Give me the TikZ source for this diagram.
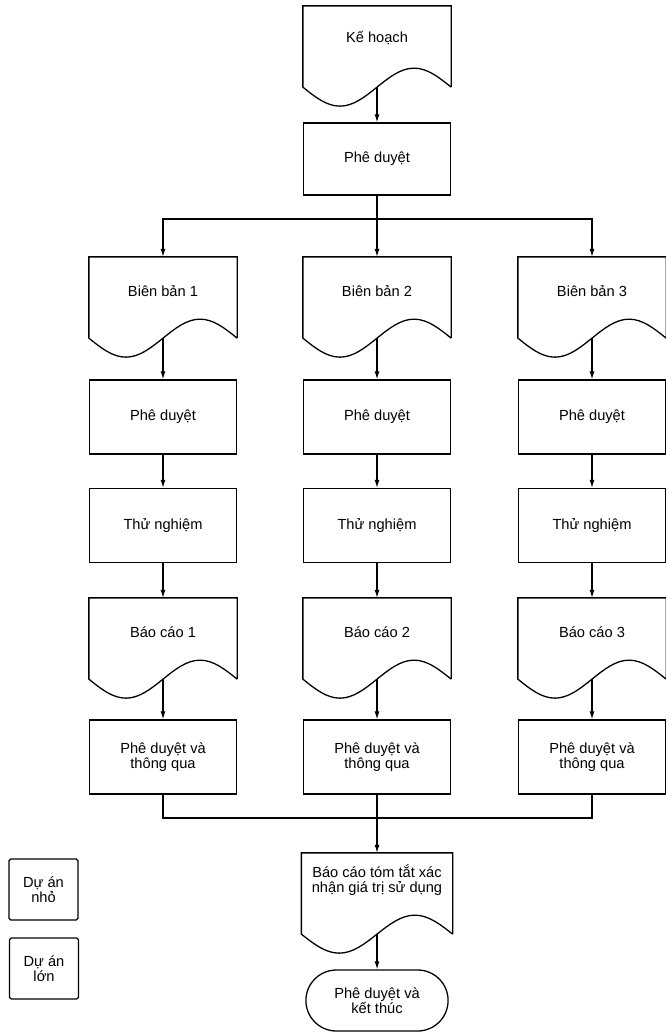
\documentclass[tikz,border=0pt]{standalone}
\usepackage{fontspec}
\setmainfont{Liberation Sans}
\usetikzlibrary{arrows.meta,calc,shapes.misc}

\tikzset{
  box/.style={draw, line width=1.1pt, minimum width=4.41cm, minimum height=2.22cm,
    align=center, font=\fontsize{12.5}{13}\selectfont},
  doc/.style={box, draw=none, minimum height=2.4cm, text height=9pt, text depth=11.5pt},
  ends/.style={box, rounded rectangle, minimum width=4.5cm, minimum height=1.83cm},
  legend/.style={box, rounded corners=1.5pt, minimum width=2.07cm, minimum height=1.83cm},
  link/.style={line width=1pt},
  go/.style={link, -{Latex[length=2.4mm,width=1.5mm]}}
}

% page shape with a wavy bottom, drawn round a (frameless) doc node
\newcommand{\wavedip}{0.57cm}
\newcommand{\docshape}[1]{%
  \draw[line width=1.1pt] (#1.south east) -- (#1.north east) -- (#1.north west) -- (#1.south west)
    sin ($(#1.south west)!.25!(#1.south east)+(0,-\wavedip)$)
    cos (#1.south)
    sin ($(#1.south west)!.75!(#1.south east)+(0,\wavedip)$)
    cos (#1.south east);}

\begin{document}
\begin{tikzpicture}
  \useasboundingbox (0,0) rectangle (19.98,-30.99);

  % top
  \node[doc, text depth=16pt] (plan) at (11.31,-1.395) {Kế hoạch};
  \node[box, minimum height=2.16cm] (appr) at (11.31,-4.77) {Phê duyệt};
  \coordinate (split) at (11.31,-6.57);

  % three columns
  \foreach \i/\x in {1/4.89, 2/11.31, 3/17.76} {
    \node[doc] (rec\i) at (\x,-8.925) {Biên bản \i};
    \node[box] (ok\i) at (\x,-12.51) {Phê duyệt};
    \node[box] (test\i) at (\x,-15.765) {Thử nghiệm};
    \node[doc] (rep\i) at (\x,-19.155) {Báo cáo \i};
    \node[box] (pass\i) at (\x,-22.71) {Phê duyệt và\\thông qua};
  }
  \coordinate (join) at (11.31,-24.54);

  % bottom
  \node[doc, minimum width=4.5cm, text depth=10pt] (sum) at (11.31,-26.805)
    {Báo cáo tóm tắt xác\\nhận giá trị sử dụng};
  \node[ends] (end) at (11.31,-30.015) {Phê duyệt và\\kết thúc};

  % legend
  \node[legend] (small) at (1.305,-26.685) {Dự án\\nhỏ};
  \node[legend] (large) at (1.32,-29.055) {Dự án\\lớn};

  \docshape{plan}
  \docshape{sum}
  \foreach \i in {1,2,3} {
    \docshape{rec\i}
    \docshape{rep\i}
  }

  % connectors
  \draw[go] (plan.south) -- (appr.north);
  \draw[link] (appr.south) -- (split);
  \draw[go] (split) -| (rec1.north);
  \draw[go] (split) -| (rec3.north);
  \draw[go] (split) -- (rec2.north);
  \foreach \i in {1,2,3} {
    \draw[go] (rec\i.south) -- (ok\i.north);
    \draw[go] (ok\i.south) -- (test\i.north);
    \draw[go] (test\i.south) -- (rep\i.north);
    \draw[go] (rep\i.south) -- (pass\i.north);
  }
  \draw[link] (pass1.south) |- (join) -| (pass3.south);
  \draw[link] (pass2.south) -- (join);
  \draw[go] (join) -- (sum.north);
  \draw[go] (sum.south) -- (end.north);
\end{tikzpicture}
\end{document}
